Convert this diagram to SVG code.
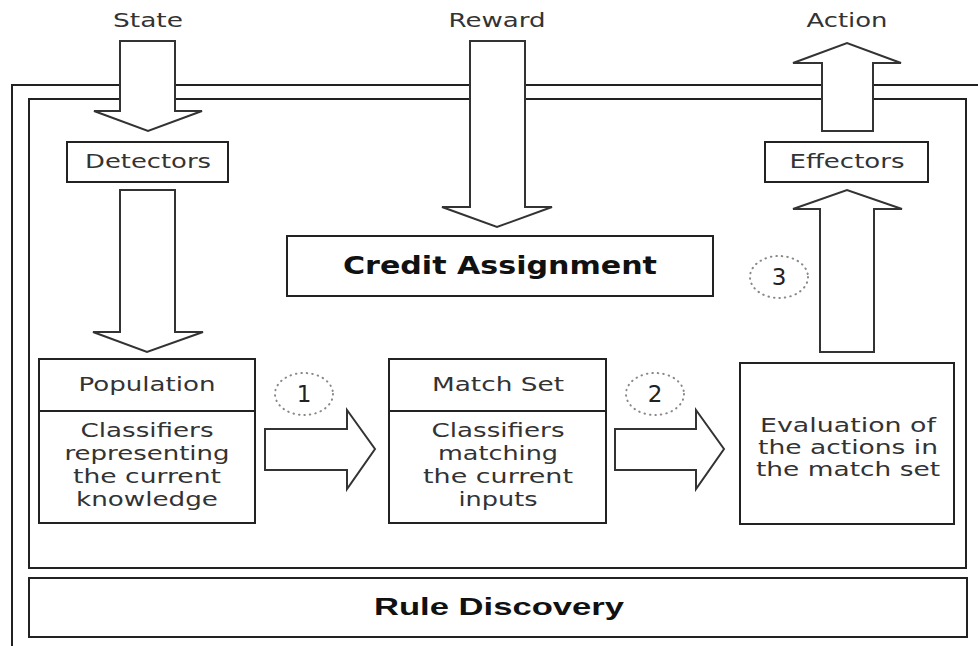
<svg xmlns="http://www.w3.org/2000/svg" width="978" height="646" viewBox="0 0 978 646">
<style>
.bx{fill:#fff;stroke:#222;stroke-width:2}
.fr{fill:none;stroke:#222;stroke-width:2}
.ar{fill:#fff;stroke:#333;stroke-width:2;stroke-linejoin:miter}
.t{font-family:"DejaVu Sans",Verdana,sans-serif;font-size:20px;fill:#333;text-anchor:middle}
.b{font-family:"DejaVu Sans",Verdana,sans-serif;font-size:24px;font-weight:bold;fill:#111;text-anchor:middle}
.rb{font-family:"Liberation Sans",Arial,sans-serif;font-size:24px;font-weight:bold;fill:#111;text-anchor:middle}
.c{fill:none;stroke:#888;stroke-width:2;stroke-dasharray:0.5 5;stroke-linecap:round}
.n{font-family:"DejaVu Sans",Verdana,sans-serif;font-size:23px;fill:#222;text-anchor:middle}
</style>
<rect width="978" height="646" fill="#fff"/>
<g id="frames">
<path class="fr" d="M12,646 V85 H978"/>
<rect class="fr" x="29" y="99" width="937" height="469"/>
</g>
<g id="connectors">
<polygon class="ar" points="120,41 175,41 175,111 202,111 148,131 94,111 120,111"/>
<polygon class="ar" points="120,190 175,190 175,332 203,332 147,352 93,332 120,332"/>
<polygon class="ar" points="470,41 525,41 525,207 552,207 497,227 442,207 470,207"/>
<polygon class="ar" points="822,131 873,131 873,63 901,63 847,43 793,63 822,63"/>
<polygon class="ar" points="820,352 874,352 874,209 902,209 847,190 793,209 820,209"/>
<polygon class="ar" points="265,429 347,429 347,410 375,449 347,489 347,470 265,470"/>
<polygon class="ar" points="615,429 696,429 696,410 724,449 696,489 696,470 615,470"/>
</g>
<g id="labels">
<text class="t" x="148" y="27" textLength="70" lengthAdjust="spacingAndGlyphs">State</text>
<text class="t" x="497" y="27" textLength="97" lengthAdjust="spacingAndGlyphs">Reward</text>
<text class="t" x="847" y="27" textLength="81" lengthAdjust="spacingAndGlyphs">Action</text>
</g>
<g id="detectors">
<rect class="bx" x="67" y="142" width="161" height="40"/>
<text class="t" x="148" y="168" textLength="126" lengthAdjust="spacingAndGlyphs">Detectors</text>
</g>
<g id="effectors">
<rect class="bx" x="765" y="142" width="163" height="40"/>
<text class="t" x="847" y="168" textLength="115" lengthAdjust="spacingAndGlyphs">Effectors</text>
</g>
<g id="credit">
<rect class="bx" x="287" y="236" width="426" height="60"/>
<text class="b" x="500" y="274" textLength="314" lengthAdjust="spacingAndGlyphs">Credit Assignment</text>
</g>
<g id="population">
<rect class="bx" x="39" y="359" width="216" height="164"/>
<line class="fr" x1="39" y1="411" x2="255" y2="411"/>
<text class="t" x="147" y="391" textLength="137" lengthAdjust="spacingAndGlyphs">Population</text>
<text class="t" x="147" y="437" textLength="133" lengthAdjust="spacingAndGlyphs">Classifiers</text>
<text class="t" x="147" y="460" textLength="165" lengthAdjust="spacingAndGlyphs">representing</text>
<text class="t" x="147" y="483" textLength="148" lengthAdjust="spacingAndGlyphs">the current</text>
<text class="t" x="147" y="506" textLength="142" lengthAdjust="spacingAndGlyphs">knowledge</text>
</g>
<g id="matchset">
<rect class="bx" x="389" y="359" width="217" height="164"/>
<line class="fr" x1="389" y1="411" x2="606" y2="411"/>
<text class="t" x="498" y="391" textLength="132" lengthAdjust="spacingAndGlyphs">Match Set</text>
<text class="t" x="498" y="437" textLength="133" lengthAdjust="spacingAndGlyphs">Classifiers</text>
<text class="t" x="498" y="460" textLength="120" lengthAdjust="spacingAndGlyphs">matching</text>
<text class="t" x="498" y="483" textLength="150" lengthAdjust="spacingAndGlyphs">the current</text>
<text class="t" x="498" y="506" textLength="79" lengthAdjust="spacingAndGlyphs">inputs</text>
</g>
<g id="evaluation">
<rect class="bx" x="740" y="363" width="214" height="161"/>
<text class="t" x="848" y="432" textLength="176" lengthAdjust="spacingAndGlyphs">Evaluation of</text>
<text class="t" x="848" y="454" textLength="180" lengthAdjust="spacingAndGlyphs">the actions in</text>
<text class="t" x="848" y="476" textLength="184" lengthAdjust="spacingAndGlyphs">the match set</text>
</g>
<g id="step1">
<ellipse class="c" cx="304" cy="394" rx="29" ry="21"/>
<text class="n" x="304" y="402">1</text>
</g>
<g id="step2">
<ellipse class="c" cx="655" cy="394" rx="29" ry="21"/>
<text class="n" x="655" y="402">2</text>
</g>
<g id="step3">
<ellipse class="c" cx="779" cy="277" rx="29" ry="21"/>
<text class="n" x="779" y="285">3</text>
</g>
<g id="rulediscovery">
<rect class="bx" x="29" y="578" width="938" height="59"/>
<text class="rb" x="499" y="615" textLength="250" lengthAdjust="spacingAndGlyphs">Rule Discovery</text>
</g>
</svg>
